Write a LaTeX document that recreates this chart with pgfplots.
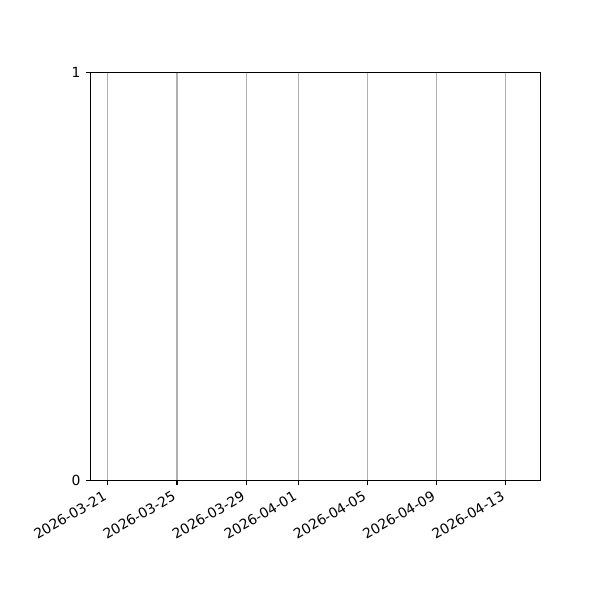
\documentclass[border=0pt]{standalone}
\usepackage{fontspec}
\setmainfont{DejaVu Sans}
\usepackage{graphicx}
\usepackage{pgfplots}
\pgfplotsset{compat=1.18}
\definecolor{gridgray}{HTML}{B0B0B0}
\newcommand{\rl}[1]{\rotatebox{30}{#1}}
\begin{document}
\fontsize{10pt}{12pt}\selectfont
\begin{tikzpicture}
\path[use as bounding box] (0,0) rectangle (432pt,432pt);
\begin{axis}[
  at={(65.16pt,86.04pt)}, anchor=south west,
  scale only axis, width=324pt, height=293.76pt,
  xmin=-1, xmax=25, ymin=0, ymax=1,
  xtick={0,4,8,11,15,19,23},
  xticklabels={\rl{2026-03-21},\rl{2026-03-25},\rl{2026-03-29},\rl{2026-04-01},\rl{2026-04-05},\rl{2026-04-09},\rl{2026-04-13}},
  ytick={0,1},
  /pgf/number format/assume math mode=true,
  tick label style={font=\fontsize{10pt}{12pt}\selectfont},
  xticklabel style={anchor=north east, inner sep=0pt, yshift=-3.5pt},
  yticklabel style={inner sep=0pt, xshift=-3.5pt},
  tick align=outside, major tick length=3.5pt,
  tick style={black, line width=0.8pt},
  axis line style={line width=0.7pt},
  xmajorgrids, ymajorgrids=false,
  major grid style={gridgray, line width=0.8pt},
  xtick pos=bottom, ytick pos=left,
]
\addplot[draw=none] coordinates {(-2,-1)};
\end{axis}
\end{tikzpicture}
\end{document}
